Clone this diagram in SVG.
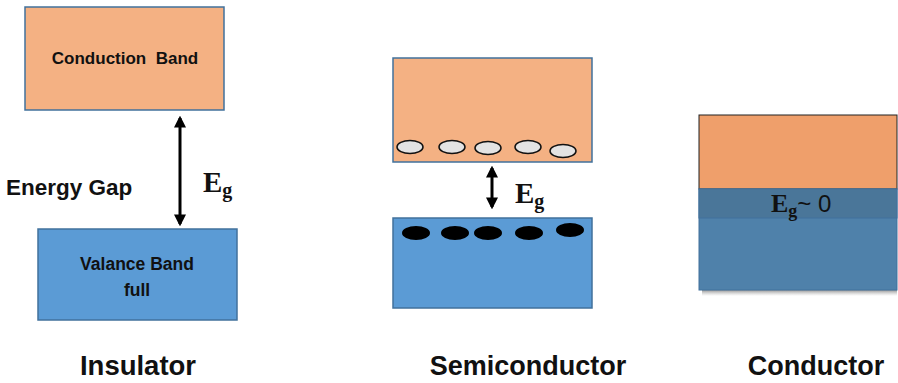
<svg xmlns="http://www.w3.org/2000/svg" width="898" height="383" viewBox="0 0 898 383">
<defs>
<style>
.cb{fill:#F4B183;stroke:#41719C;stroke-width:1.5}
.vb{fill:#5B9BD5;stroke:#41719C;stroke-width:1.5}
.lbl{font-family:"Liberation Sans",Arial,sans-serif;font-weight:bold;fill:#111}
.eg{font-family:"Liberation Serif","DejaVu Serif",serif;font-weight:bold;fill:#111}
.hole{fill:#E3E3E3;stroke:#111;stroke-width:1.5}
.elec{fill:#000}
.arr{stroke:#000;stroke-width:3;marker-start:url(#ah);marker-end:url(#ah)}
</style>
<marker id="ah" viewBox="0 0 10 10" refX="8" refY="5" markerWidth="4" markerHeight="4" orient="auto-start-reverse" markerUnits="strokeWidth">
<path d="M0,0 L10,5 L0,10 z" fill="#000"/>
</marker>
<linearGradient id="shad" x1="0" y1="0" x2="0" y2="1">
<stop offset="0" stop-color="#444" stop-opacity="0.85"/>
<stop offset="1" stop-color="#999" stop-opacity="0"/>
</linearGradient>
</defs>
<rect width="898" height="383" fill="#fff"/>

<g id="insulator-cb">
<rect class="cb" x="25" y="7" width="199" height="103"/>
<text class="lbl" x="125" y="64" font-size="17" text-anchor="middle">Conduction&#160; Band</text>
</g>
<g id="insulator-vb">
<rect class="vb" x="38" y="229" width="199" height="91"/>
<text class="lbl" x="137" y="270" font-size="17.5" text-anchor="middle">Valance Band</text>
<text class="lbl" x="137" y="296" font-size="17.5" text-anchor="middle">full</text>
</g>
<g id="insulator-gap">
<text class="lbl" x="6" y="195" font-size="22.5">Energy Gap</text>
<text class="eg" x="203" y="192" font-size="29">E<tspan font-size="20" dy="5">g</tspan></text>
</g>

<g id="semi-cb">
<rect class="cb" x="393" y="58" width="199" height="104"/>
<ellipse class="hole" cx="410" cy="147" rx="13" ry="6.5"/>
<ellipse class="hole" cx="452" cy="147" rx="13" ry="6.5"/>
<ellipse class="hole" cx="488" cy="148" rx="13" ry="6.5"/>
<ellipse class="hole" cx="528" cy="147" rx="13" ry="6.5"/>
<ellipse class="hole" cx="563" cy="151" rx="13" ry="6.5"/>
</g>
<g id="semi-vb">
<rect class="vb" x="393" y="218" width="199" height="90"/>
<ellipse class="elec" cx="416" cy="233" rx="14" ry="7"/>
<ellipse class="elec" cx="455" cy="233" rx="14" ry="7"/>
<ellipse class="elec" cx="488" cy="233" rx="14" ry="7"/>
<ellipse class="elec" cx="529" cy="233" rx="14" ry="7"/>
<ellipse class="elec" cx="570" cy="230" rx="14" ry="7"/>
</g>
<g id="semi-gap">
<text class="eg" x="515" y="203" font-size="29">E<tspan font-size="20" dy="5">g</tspan></text>
</g>

<g id="conductor">
<rect x="702" y="288" width="195" height="8" fill="url(#shad)"/>
<rect x="699" y="115" width="198" height="74" fill="#EF9F6B" stroke="#222" stroke-width="1"/>
<rect x="699" y="189" width="198" height="101" fill="#4F81AA" stroke="#41719C" stroke-width="1"/>
<rect x="699" y="189" width="198" height="29" fill="#4A7699" stroke="#41719C" stroke-width="1"/>
<text class="eg" x="771" y="212" font-size="26">E<tspan font-size="18" dy="5">g</tspan><tspan font-family="Liberation Sans,Arial,sans-serif" font-weight="normal" font-size="24" dy="-5">~ 0</tspan></text>
</g>

<g id="connectors">
<line class="arr" x1="180" y1="118" x2="180" y2="224"/>
<line class="arr" x1="492" y1="168" x2="492" y2="207"/>
</g>

<g id="titles">
<text class="lbl" x="138" y="375" font-size="27.5" text-anchor="middle">Insulator</text>
<text class="lbl" x="528" y="375" font-size="27" text-anchor="middle">Semiconductor</text>
<text class="lbl" x="816" y="375" font-size="27" text-anchor="middle">Conductor</text>
</g>
</svg>
